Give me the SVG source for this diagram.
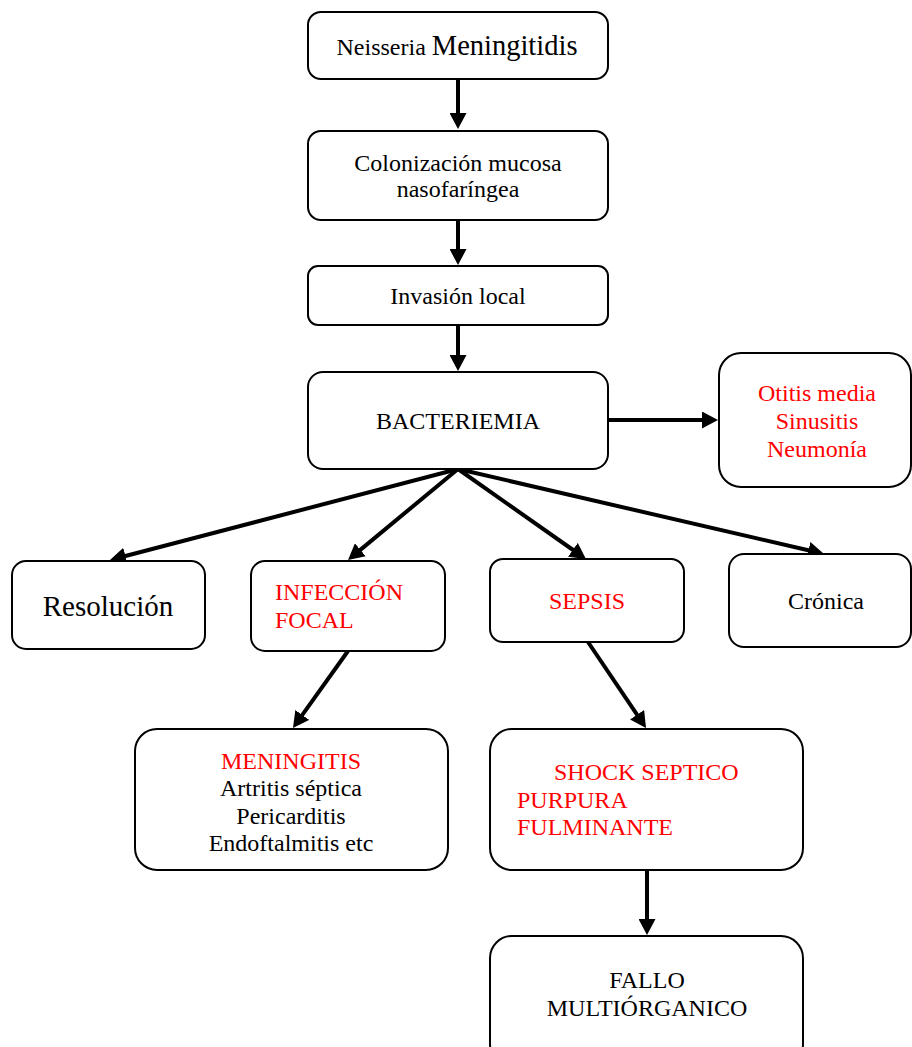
<svg xmlns="http://www.w3.org/2000/svg" width="912" height="1047" viewBox="0 0 912 1047">
<style>
.box{fill:#fff;stroke:#000;stroke-width:2}
.t{font-family:"Liberation Serif","Tinos","Times New Roman","DejaVu Serif",serif;font-size:24px;fill:#000}
.r{fill:#ff0000}
.c{text-anchor:middle}
.big{font-size:29px}
.mb{font-size:28.5px}
.con line{stroke:#000;stroke-width:4;marker-end:url(#ah)}
</style>
<defs>
<marker id="ah" markerUnits="userSpaceOnUse" markerWidth="16" markerHeight="17" viewBox="0 0 16 17" refX="2" refY="8.5" orient="auto">
<path d="M0,0 L16,8.5 L0,17 z" fill="#000"/>
</marker>
</defs>
<rect width="912" height="1047" fill="#fff"/>
<g id="connectors" class="con">
<line x1="458" y1="79" x2="458" y2="115"/>
<line x1="458" y1="220" x2="458" y2="251"/>
<line x1="458" y1="325" x2="458" y2="357"/>
<line x1="608" y1="420" x2="704" y2="420"/>
<line x1="458" y1="469" x2="123.5" y2="556.5"/>
<line x1="458" y1="469" x2="358.8" y2="551.1"/>
<line x1="458" y1="469" x2="574.5" y2="551"/>
<line x1="458" y1="469" x2="810.4" y2="550.8"/>
<line x1="348" y1="651" x2="301.1" y2="716.6"/>
<line x1="588" y1="642" x2="638.2" y2="716.4"/>
<line x1="647" y1="870" x2="647" y2="921"/>
</g>
<g id="n-neisseria">
<rect class="box" x="308" y="12" width="300" height="67" rx="13"/>
<text class="t c" x="457" y="55">Neisseria <tspan class="mb">Meningitidis</tspan></text>
</g>
<g id="n-colonizacion">
<rect class="box" x="308" y="131" width="300" height="89" rx="13"/>
<text class="t c" x="458" y="171">Colonización mucosa</text>
<text class="t c" x="458" y="197">nasofaríngea</text>
</g>
<g id="n-invasion">
<rect class="box" x="308" y="266" width="300" height="59" rx="10"/>
<text class="t c" x="458" y="304">Invasión local</text>
</g>
<g id="n-bacteriemia">
<rect class="box" x="308" y="372" width="300" height="97" rx="15"/>
<text class="t c" x="458" y="429">BACTERIEMIA</text>
</g>
<g id="n-otitis">
<rect class="box" x="719" y="353" width="192" height="134" rx="22"/>
<text class="t r c" x="817" y="401">Otitis media</text>
<text class="t r c" x="817" y="429">Sinusitis</text>
<text class="t r c" x="817" y="457">Neumonía</text>
</g>
<g id="n-resolucion">
<rect class="box" x="12" y="561" width="193" height="88" rx="14"/>
<text class="t c big" x="108" y="616">Resolución</text>
</g>
<g id="n-infeccion">
<rect class="box" x="251" y="561" width="194" height="90" rx="14"/>
<text class="t r" x="275" y="600">INFECCIÓN</text>
<text class="t r" x="275" y="628">FOCAL</text>
</g>
<g id="n-sepsis">
<rect class="box" x="490" y="559" width="194" height="83" rx="13"/>
<text class="t r c" x="587" y="609">SEPSIS</text>
</g>
<g id="n-cronica">
<rect class="box" x="729" y="554" width="182" height="93" rx="15"/>
<text class="t c" x="826" y="609">Crónica</text>
</g>
<g id="n-meningitis">
<rect class="box" x="135" y="729" width="313" height="141" rx="22"/>
<text class="t r c" x="291" y="769">MENINGITIS</text>
<text class="t c" x="291" y="796">Artritis séptica</text>
<text class="t c" x="291" y="824">Pericarditis</text>
<text class="t c" x="291" y="851">Endoftalmitis etc</text>
</g>
<g id="n-shock">
<rect class="box" x="490" y="729" width="313" height="141" rx="22"/>
<text class="t r" x="554" y="780">SHOCK SEPTICO</text>
<text class="t r" x="517" y="808">PURPURA</text>
<text class="t r" x="517" y="835">FULMINANTE</text>
</g>
<g id="n-fallo">
<rect class="box" x="490" y="936" width="313" height="130" rx="22"/>
<text class="t c" x="647" y="988">FALLO</text>
<text class="t c" x="647" y="1016">MULTIÓRGANICO</text>
</g>
</svg>
